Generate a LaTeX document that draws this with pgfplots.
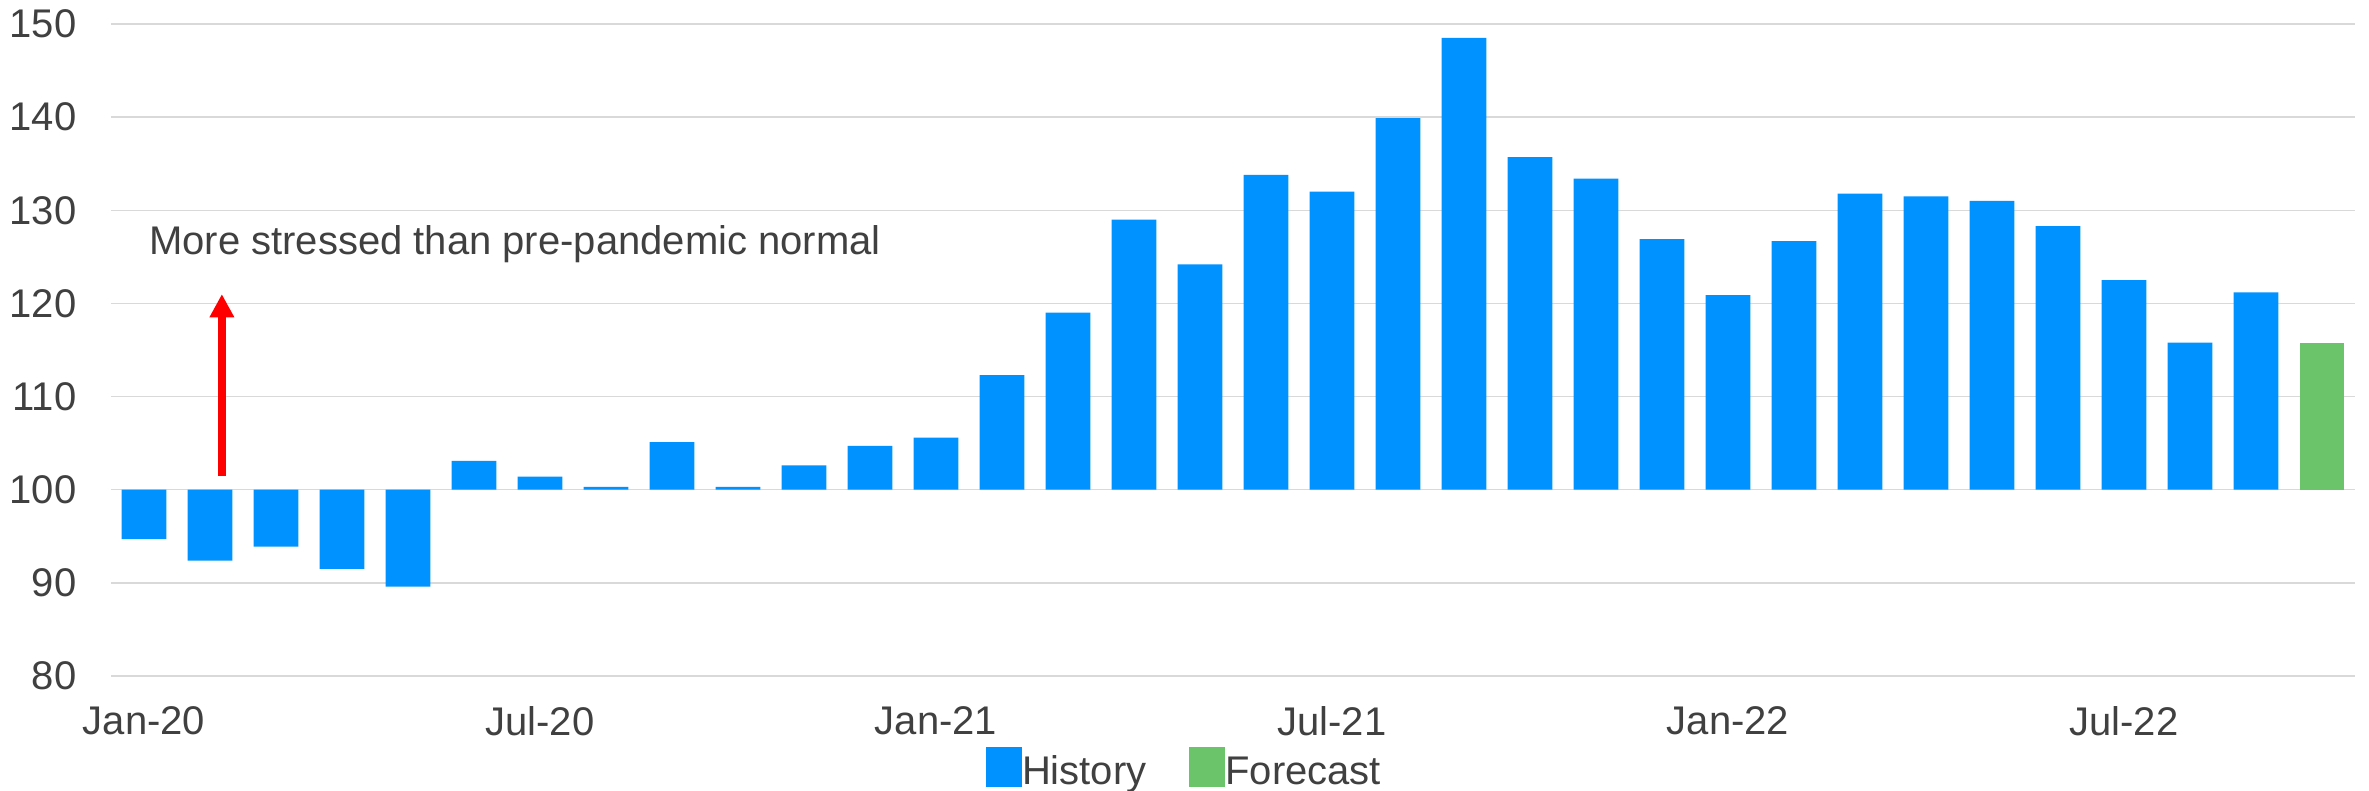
\documentclass[border=0pt]{standalone}
\usepackage{pgfplots}
\pgfplotsset{compat=1.18}
\usepackage{pgfplotstable}
\usepackage{fontspec}
\setmainfont{Liberation Sans}
\usetikzlibrary{arrows.meta}
\definecolor{histblue}{RGB}{0,146,255}
\definecolor{fcgreen}{RGB}{108,196,106}
\definecolor{txtgray}{RGB}{64,64,64}
\definecolor{gridgray}{RGB}{217,217,217}
\pgfplotstableread{
x v
0 94.7
1 92.4
2 93.9
3 91.5
4 89.6
5 103.1
6 101.4
7 100.3
8 105.1
9 100.3
10 102.6
11 104.7
12 105.6
13 112.3
14 119.0
15 129.0
16 124.2
17 133.8
18 132.0
19 139.9
20 148.5
21 135.7
22 133.4
23 126.9
24 120.9
25 126.7
26 131.8
27 131.5
28 131.0
29 128.3
30 122.5
31 115.8
32 121.2
}\history
\pgfplotstableread{
x v
33 115.8
}\forecast
\begin{document}
\begin{tikzpicture}
\useasboundingbox (-33.3pt,-34.5pt) rectangle (677.4pt,202.8pt);
\begin{axis}[
  scale only axis,
  width=673.2pt, height=195.6pt,
  font=\fontsize{12}{14.4}\selectfont,
  /pgf/number format/assume math mode=true,
  xmin=-0.5, xmax=33.5,
  ymin=-20, ymax=50,
  ytick={-20,-10,0,10,20,30,40,50},
  yticklabels={80,90,100,110,120,130,140,150},
  xtick={0,6,12,18,24,30},
  xticklabels={Jan-20,Jul-20,Jan-21,Jul-21,Jan-22,Jul-22},
  ymajorgrids,
  grid style={gridgray, line width=0.45pt},
  axis line style={draw=none},
  major tick length=0pt,
  tick label style={txtgray},
  yticklabel style={inner sep=0pt, anchor=east, xshift=-10.2pt},
  xticklabel style={inner sep=0pt, anchor=north, yshift=-9pt},
  clip=false,
  legend columns=-1,
  legend style={draw=none, fill=none, inner sep=0pt, outer sep=0pt,
    at={(axis description cs:0,0)}, anchor=north west,
    xshift=262.5pt, yshift=-21.4pt,
    nodes={inner sep=0pt, anchor=base west, text=txtgray},
    column sep=0pt,
    /tikz/every even column/.append style={column sep=12.9pt}},
  legend image code/.code={\fill[#1] (0pt,-0.6pt) rectangle (10.8pt,11.2pt);},
]
\addplot[ybar, bar width=0.68, bar shift=0pt, fill=histblue, draw=none]
  table[x=x, y expr=\thisrow{v}-100] {\history};
\addlegendentry{History}
\addplot[ybar, bar width=0.68, bar shift=0pt, fill=fcgreen, draw=none]
  table[x=x, y expr=\thisrow{v}-100] {\forecast};
\addlegendentry{Forecast}
\node[anchor=base west, inner sep=0pt, text=txtgray] at (axis cs:0.07,25.2) {More stressed than pre-pandemic normal};
\draw[red, line width=2.4pt, -{Triangle[width=7pt,length=7pt]}] (axis cs:1.18,1.5) -- (axis cs:1.18,21);
\end{axis}
\end{tikzpicture}
\end{document}
